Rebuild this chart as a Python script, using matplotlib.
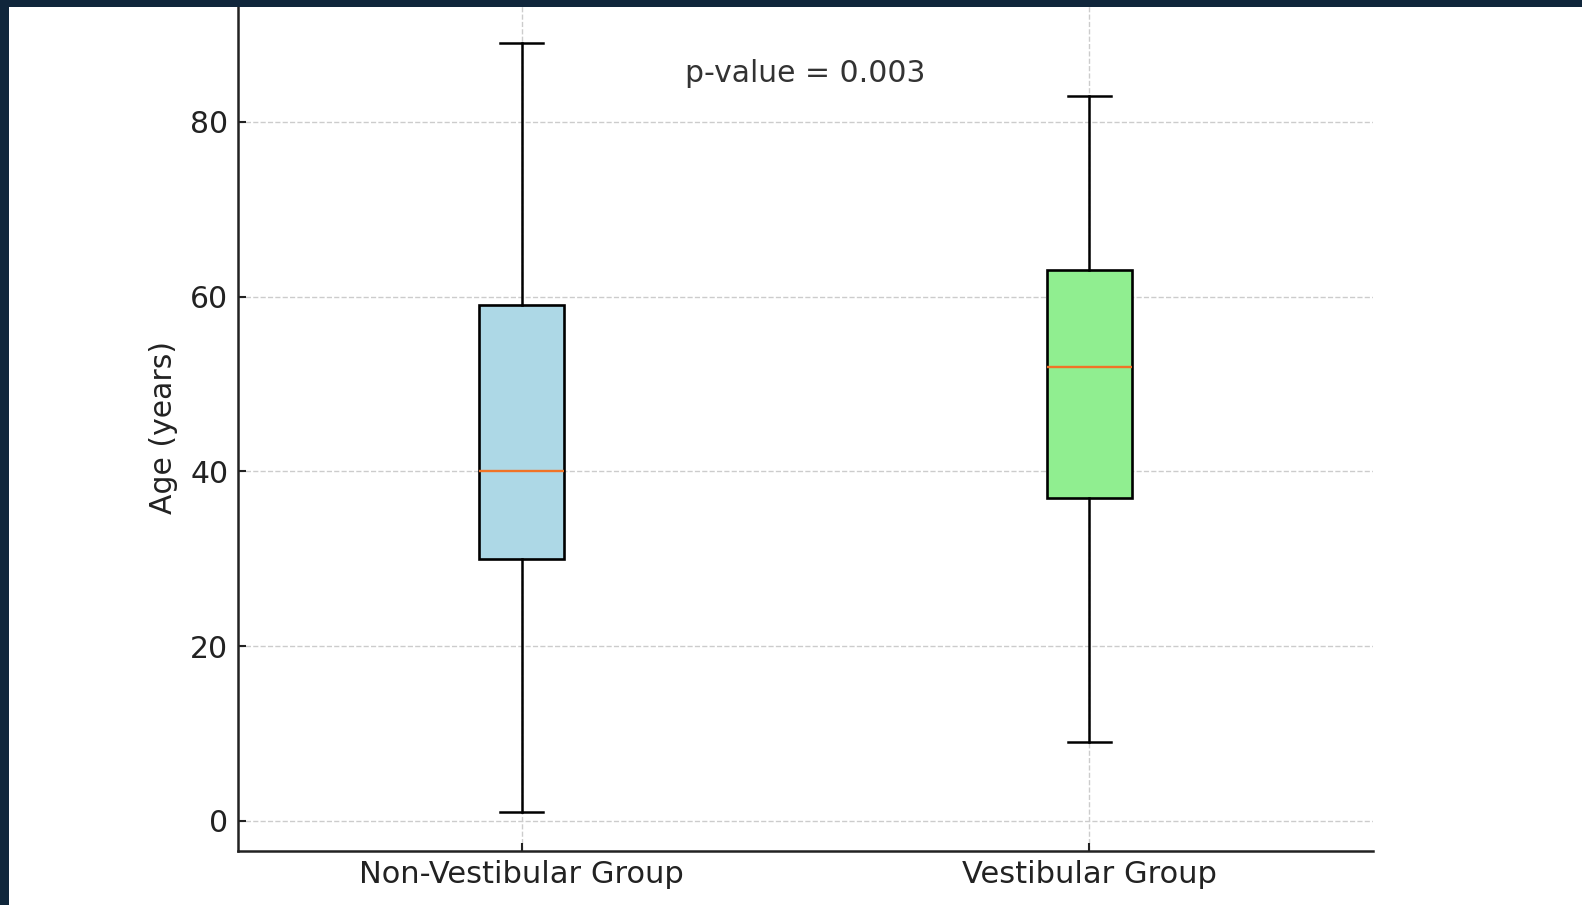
import matplotlib
matplotlib.use("Agg")
import matplotlib.pyplot as plt
from matplotlib.patches import Rectangle

# Age summary per group (whisker ends, quartiles, median)
groups = ["Non-Vestibular Group", "Vestibular Group"]
whisker_low = [1, 9]
q1 = [30, 37]
median = [40, 52]
q3 = [59, 63]
whisker_high = [89, 83]
fill_colors = ["lightblue", "lightgreen"]
p_value = 0.003

stats = [
    dict(label=g, whislo=lo, q1=a, med=m, q3=b, whishi=hi, fliers=[])
    for g, lo, a, m, b, hi in zip(groups, whisker_low, q1, median, q3, whisker_high)
]

fig = plt.figure(figsize=(15.82, 9.05), dpi=100)
fig.patch.set_facecolor("white")
ax = fig.add_axes([0.1504, 0.0600, 0.7175, 0.9348])

ink = "#222222"
bp = ax.bxp(
    stats,
    positions=[1, 2],
    widths=0.15,
    patch_artist=True,
    boxprops=dict(linewidth=1.9, edgecolor="black"),
    whiskerprops=dict(linewidth=1.8, color="black"),
    capprops=dict(linewidth=1.8, color="black"),
    medianprops=dict(linewidth=1.7, color="#f07326"),
)
for box, c in zip(bp["boxes"], fill_colors):
    box.set_facecolor(c)

ax.set_xlim(0.5, 2.5)
ax.set_ylim(-3.4, 93.4)
ax.set_yticks([0, 20, 40, 60, 80])

ax.set_axisbelow(True)
ax.grid(True, linestyle="--", color="#cccccc", linewidth=1.0)

for side in ["top", "right"]:
    ax.spines[side].set_visible(False)
for side in ["left", "bottom"]:
    ax.spines[side].set_linewidth(1.8)
    ax.spines[side].set_color(ink)

ax.tick_params(axis="both", direction="in", length=6, width=1.5, color=ink,
               labelcolor=ink)
ax.tick_params(axis="y", pad=7, labelsize=21.5)
ax.tick_params(axis="x", pad=7, labelsize=22)

ax.set_ylabel("Age (years)", fontsize=21.5, color=ink, labelpad=8.5)

ax.text(1.5, 85.5, f"p-value = {p_value:.3f}", ha="center", va="center",
        fontsize=21.5, color="#333333")

# dark screen frame along the top and left edges
frame = "#10263b"
fig.add_artist(Rectangle((0, 1 - 7 / 905), 1, 7 / 905, transform=fig.transFigure,
                         facecolor=frame, edgecolor="none", zorder=10))
fig.add_artist(Rectangle((0, 0), 9 / 1582, 1, transform=fig.transFigure,
                         facecolor=frame, edgecolor="none", zorder=10))

fig.savefig("out.png", dpi=100)
